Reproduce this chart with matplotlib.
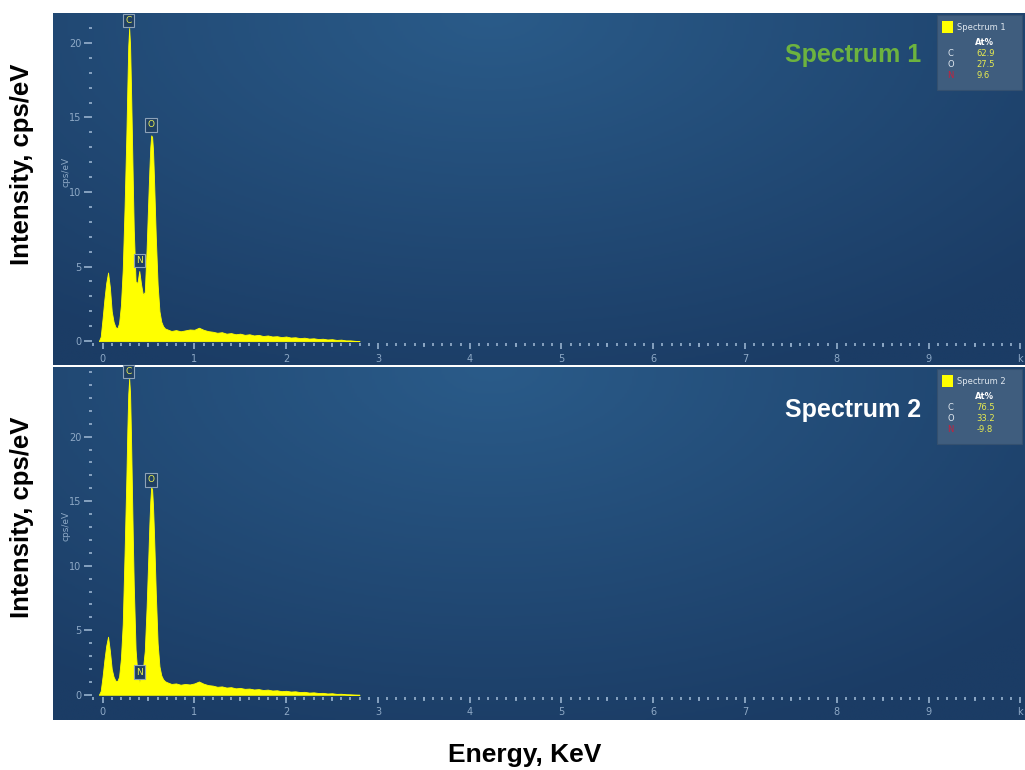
## Imports
import numpy as np
import matplotlib.pyplot as plt
from matplotlib.colors import LinearSegmentedColormap
from matplotlib.ticker import FixedLocator
from matplotlib.patches import Rectangle

## Data (energy in keV, intensity in cps/eV)
energy_peaks = [-0.04, -0.02, 0.00, 0.02, 0.04, 0.06, 0.08, 0.10, 0.12, 0.14,
                0.16, 0.18, 0.20, 0.22, 0.24, 0.25, 0.26, 0.27, 0.28, 0.29,
                0.30, 0.31, 0.32, 0.33, 0.34, 0.36, 0.38, 0.40, 0.42, 0.44,
                0.46, 0.48, 0.50, 0.51, 0.52, 0.53, 0.54, 0.55, 0.56, 0.57,
                0.58, 0.60, 0.62, 0.64, 0.66, 0.68]
spec1_peaks = [0.0, 0.3, 1.5, 2.8, 3.9, 4.6, 3.6, 2.0, 1.3, 0.95,
               0.85, 1.2, 2.4, 4.8, 9.0, 11.5, 14.0, 17.0, 19.8, 21.0,
               19.8, 17.0, 13.8, 10.5, 7.5, 4.0, 3.9, 4.7, 3.8, 3.1,
               3.3, 6.2, 9.8, 11.5, 13.0, 13.8, 13.7, 12.8, 11.0, 9.0,
               7.0, 3.8, 2.0, 1.3, 1.0, 0.85]
spec2_peaks = [0.0, 0.3, 1.4, 2.7, 3.8, 4.5, 3.4, 2.0, 1.4, 1.1,
               1.05, 1.4, 2.8, 5.5, 11.0, 14.0, 17.0, 20.5, 23.3, 24.5,
               23.3, 20.0, 16.0, 12.0, 8.5, 3.5, 1.6, 1.0, 1.3, 2.0,
               3.4, 6.8, 11.0, 13.2, 15.0, 16.1, 15.9, 14.6, 12.6, 10.3,
               7.9, 4.0, 2.2, 1.5, 1.2, 1.05]

energy_tail = [0.70, 0.75, 0.80, 0.85, 0.90, 0.95, 1.00, 1.05, 1.10, 1.15,
               1.20, 1.25, 1.30, 1.35, 1.40, 1.45, 1.50, 1.55, 1.60, 1.65,
               1.70, 1.75, 1.80, 1.85, 1.90, 1.95, 2.00, 2.05, 2.10, 2.15,
               2.20, 2.25, 2.30, 2.35, 2.40, 2.45, 2.50, 2.55, 2.60, 2.65,
               2.70, 2.75, 2.80]
spec1_tail = [0.80, 0.68, 0.74, 0.66, 0.72, 0.78, 0.76, 0.90, 0.76, 0.67,
              0.63, 0.56, 0.60, 0.50, 0.54, 0.46, 0.50, 0.42, 0.46, 0.38,
              0.42, 0.34, 0.38, 0.31, 0.33, 0.27, 0.31, 0.24, 0.26, 0.20,
              0.23, 0.17, 0.19, 0.14, 0.16, 0.11, 0.13, 0.08, 0.10, 0.05,
              0.05, 0.02, 0.0]
spec2_tail = [0.98, 0.84, 0.88, 0.78, 0.84, 0.80, 0.88, 1.03, 0.86, 0.75,
              0.71, 0.62, 0.65, 0.56, 0.59, 0.50, 0.53, 0.46, 0.48, 0.41,
              0.44, 0.37, 0.40, 0.33, 0.35, 0.28, 0.31, 0.25, 0.27, 0.21,
              0.23, 0.17, 0.19, 0.14, 0.15, 0.10, 0.12, 0.07, 0.08, 0.04,
              0.03, 0.01, 0.0]

spectrum_names = ['Spectrum 1', 'Spectrum 2']
elements = ['C', 'O', 'N']
at_pct_1 = ['62.9', '27.5', '9.6']
at_pct_2 = ['76.5', '33.2', '-9.8']

# peak label positions (energy, height of the marker)
marker_energy = [0.28, 0.53, 0.40]
marker_height_1 = [21.2, 14.2, 5.1]
marker_height_2 = [24.7, 16.3, 1.4]

x_ticks = [0, 1, 2, 3, 4, 5, 6, 7, 8, 9, 10]
x_tick_labels = ['0', '1', '2', '3', '4', '5', '6', '7', '8', '9', 'k']

## Styles
bg_dark = '#1b3c65'
bg_light = '#2a5b89'
tick_col = '#8ea9c6'
fill_col = '#ffff00'
label_col = '#e8ec50'
title_cols = ['#6db33f', '#ffffff']
outer_font = {'family': 'Liberation Sans', 'fontweight': 'bold'}

energy = np.array(energy_peaks + energy_tail)
spectra = [np.array(spec1_peaks + spec1_tail), np.array(spec2_peaks + spec2_tail)]
markers = [marker_height_1, marker_height_2]
at_pcts = [at_pct_1, at_pct_2]
ylims = [(-1.6, 22.0), (-1.95, 25.4)]
ytops = [21, 25]
title_y = [0.881, 0.878]

cmap = LinearSegmentedColormap.from_list('bg', [bg_dark, bg_light])
yy, xx = np.mgrid[0:1:200j, 0:1:400j]
glow = np.clip(1.0 - np.sqrt(((xx - 0.45) / 0.75)**2 + ((yy - 1.0) / 1.1)**2), 0, 1)

figure = plt.figure(figsize=(10.25, 7.7), dpi=100)
panel_rects = [[0.0517, 0.526, 0.9483, 0.457], [0.0517, 0.065, 0.9483, 0.4584]]

for idx in range(2):
    ax = figure.add_axes(panel_rects[idx])
    ax.imshow(glow, cmap=cmap, extent=[0, 1, 0, 1], origin='lower',
              transform=ax.transAxes, aspect='auto', zorder=0)
    ax.fill_between(energy, 0, spectra[idx], color=fill_col, lw=0.6, zorder=2)
    ax.set_xlim(-0.54, 10.05)
    ax.set_ylim(*ylims[idx])

    for s in ax.spines.values():
        s.set_visible(False)
    ax.spines['left'].set_position(('data', -0.11))
    ax.spines['bottom'].set_position(('data', -0.15))

    # y ticks
    ax.yaxis.set_major_locator(FixedLocator([0, 5, 10, 15, 20]))
    ax.yaxis.set_minor_locator(FixedLocator(list(range(0, ytops[idx] + 1))))
    ax.tick_params(axis='y', which='major', direction='out', length=6, width=1.3,
                   color=tick_col, labelcolor=tick_col, labelsize=7, pad=2)
    ax.tick_params(axis='y', which='minor', direction='out', length=2.2, width=1.3,
                   color=tick_col)

    # x ticks
    ax.set_xticks(x_ticks)
    ax.set_xticklabels(x_tick_labels)
    ax.xaxis.set_minor_locator(FixedLocator([round(-0.1 + 0.1 * k, 1) for k in range(102)]))
    ax.tick_params(axis='x', which='major', direction='out', length=4.5, width=1.3,
                   color=tick_col, labelcolor=tick_col, labelsize=7, pad=3)
    ax.tick_params(axis='x', which='minor', direction='out', length=2, width=1.3,
                   color=tick_col)
    ymin, ymax = ylims[idx]
    sec = ax.secondary_xaxis((-0.15 - ymin) / (ymax - ymin))
    sec.set_xticks([k + 0.5 for k in range(10)])
    sec.set_xticklabels([])
    sec.tick_params(direction='out', length=3.2, width=1.3, color=tick_col)
    for s in sec.spines.values():
        s.set_visible(False)

    ax.text(0.009, 0.55, 'cps/eV', transform=ax.transAxes, rotation=90,
            color=tick_col, fontsize=6.5, va='center', ha='left')

    # element peak markers
    for el, e, h in zip(elements, marker_energy, markers[idx]):
        ax.text(e, h, el, color=label_col, fontsize=6.5, ha='center', va='bottom',
                zorder=4, bbox=dict(boxstyle='square,pad=0.25', fc='#1f3f62',
                                    ec='#8da2b8', lw=0.8))

    # spectrum title
    ax.text(0.893, title_y[idx], spectrum_names[idx], transform=ax.transAxes,
            color=title_cols[idx], fontsize=18, ha='right', va='center', **outer_font)

    # quant box
    bx, by, bw, bh = 0.909, 0.782, 0.0875, 0.212
    ax.add_patch(Rectangle((bx, by), bw, bh, transform=ax.transAxes,
                           fc='#3f5d7e', ec='#34506f', lw=0.8, zorder=5))
    ax.add_patch(Rectangle((bx + 0.006, by + bh - 0.05), 0.011, 0.033,
                           transform=ax.transAxes, fc=fill_col, ec='none', zorder=6))
    ax.text(bx + 0.021, by + bh - 0.034, spectrum_names[idx], transform=ax.transAxes,
            color='#dfe7ef', fontsize=6, va='center', ha='left', zorder=6)
    ax.text(bx + 0.039, by + bh - 0.078, 'At%', transform=ax.transAxes,
            color='#ffffff', fontsize=6, fontweight='bold', va='center', zorder=6)
    for r, (el, val) in enumerate(zip(elements, at_pcts[idx])):
        yrow = by + bh - 0.11 - r * 0.031
        ax.text(bx + 0.011, yrow, el, transform=ax.transAxes, fontsize=6,
                color='#c8203c' if el == 'N' else '#dfe7ef', va='center', zorder=6)
        ax.text(bx + 0.041, yrow, val, transform=ax.transAxes, fontsize=6,
                color=label_col, va='center', zorder=6)

figure.text(0.0215, 0.787, 'Intensity, cps/eV', rotation=90, fontsize=18.5,
            ha='center', va='center', **outer_font)
figure.text(0.0215, 0.328, 'Intensity, cps/eV', rotation=90, fontsize=18.5,
            ha='center', va='center', **outer_font)
figure.text(0.512, 0.0195, 'Energy, KeV', fontsize=19, ha='center', va='center',
            **outer_font)

plt.savefig('out.png', dpi=100)
